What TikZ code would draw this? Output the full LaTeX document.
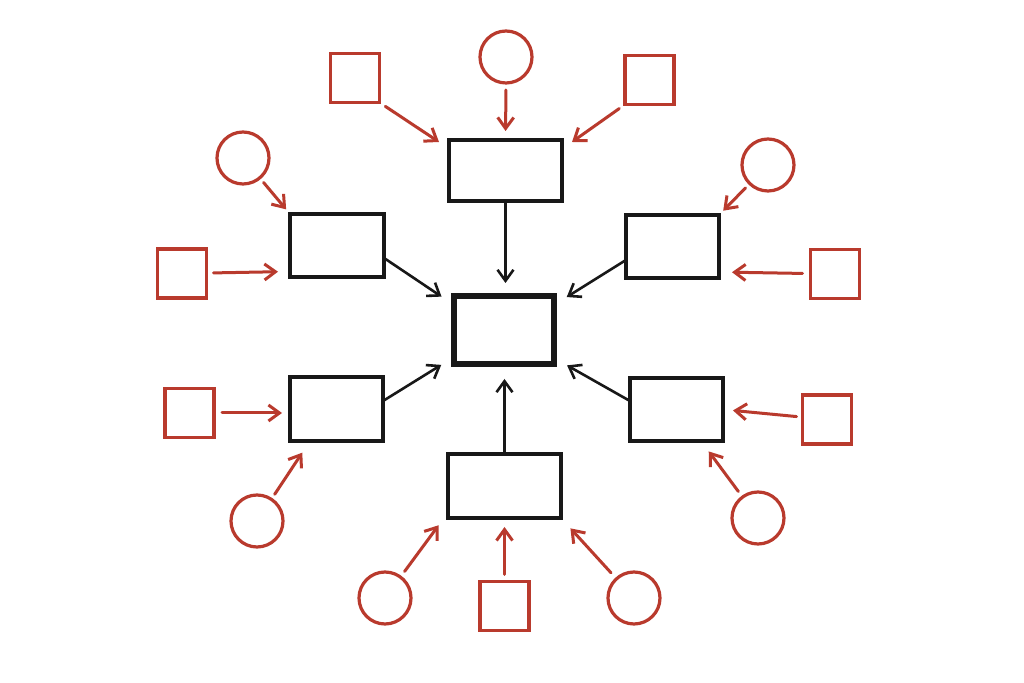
\documentclass[tikz,border=0pt]{standalone}
\usetikzlibrary{arrows.meta,calc}
\definecolor{sk}{RGB}{185,58,45}
\definecolor{ink}{RGB}{24,24,24}
\begin{document}
\begin{tikzpicture}[x=0.5pt,y=-0.5pt,
  box/.style={draw=ink,line width=1.7pt,inner sep=0pt,outer sep=0pt,rectangle},
  hub/.style={draw=ink,line width=2.8pt,inner sep=0pt,outer sep=0pt,rectangle,minimum width=50pt,minimum height=34pt},
  sq/.style={draw=sk,line width=1.6pt,inner sep=0pt,outer sep=0pt,rectangle,minimum size=24.5pt},
  ci/.style={draw=sk,line width=1.6pt,inner sep=0pt,outer sep=0pt,circle,minimum size=26pt},
  rarr/.style={draw=sk,line width=1.5pt,line cap=round,-{Straight Barb[length=5.5pt,width=8pt,line width=1.5pt]}},
  barr/.style={draw=ink,line width=1.3pt,line cap=round,-{Straight Barb[length=5.5pt,width=8pt,line width=1.3pt]}}
]
\useasboundingbox[fill=white] (0,0) rectangle (1024,683);
% black boxes
\node[hub] (ctr) at (504,330) {};
\node[box,minimum width=56.5pt,minimum height=30.5pt] (top) at (505.5,170.5) {};
\node[box,minimum width=47pt,minimum height=31.5pt] (lub) at (337,245.5) {};
\node[box,minimum width=46.5pt,minimum height=31.5pt] (rub) at (672.5,246.5) {};
\node[box,minimum width=46.5pt,minimum height=32pt] (llb) at (336.5,409) {};
\node[box,minimum width=46.5pt,minimum height=31.5pt] (rlb) at (676.5,409.5) {};
\node[box,minimum width=56.5pt,minimum height=32pt] (bb) at (504.5,486) {};
% red squares
\node[sq] (tls) at (355,78) {};
\node[sq] (trs) at (649.5,80) {};
\node[sq] (lus) at (182,273.5) {};
\node[sq] (rus) at (835,274) {};
\node[sq] (lls) at (189.5,413) {};
\node[sq] (rls) at (827,419.5) {};
\node[sq] (bs) at (504.5,606) {};
% red circles
\node[ci] (tc) at (506,57) {};
\node[ci] (luc) at (243,158) {};
\node[ci] (ruc) at (768,165) {};
\node[ci] (llc) at (257,521) {};
\node[ci] (rlc) at (758,518) {};
\node[ci] (blc) at (385,598) {};
\node[ci] (brc) at (634,598) {};
% red arrows
\draw[rarr,shorten <=3.5pt,shorten >=4.5pt] (tc.south) -- (top.north);
\draw[rarr,shorten <=3.5pt] (tls.south east) -- ([xshift=-5pt,yshift=-1pt]top.north west);
\draw[rarr,shorten <=3.5pt] (trs.south west) -- ([xshift=5pt,yshift=-1pt]top.north east);
\draw[rarr,shorten <=3pt,shorten >=3pt] (luc) -- (lub.north west);
\draw[rarr,shorten <=3.5pt,shorten >=6pt] (lus) -- ([yshift=1pt]lus -| lub.west);
\draw[rarr,shorten <=3pt,shorten >=3pt] (ruc) -- (rub.north east);
\draw[rarr,shorten <=4pt,shorten >=6.5pt] (rus) -- ([yshift=1pt]rus -| rub.east);
\draw[rarr,shorten <=4pt,shorten >=4pt] (lls) -- (lls -| llb.west);
\draw[rarr,shorten <=3pt,shorten >=7pt] (llc) -- ([xshift=10pt]llb.south west);
\draw[rarr,shorten <=3pt,shorten >=5pt] (rls) -- (rlb.east);
\draw[rarr,shorten <=3.5pt,shorten >=6.5pt] (rlc) -- ([xshift=-11pt]rlb.south east);
\draw[rarr,shorten <=3.5pt,shorten >=4.5pt] (blc) -- ([xshift=-2pt]bb.south west);
\draw[rarr,shorten <=3.5pt,shorten >=4.5pt] (bs.north) -- (bb.south);
\draw[rarr,shorten <=4pt,shorten >=7pt] (brc) -- (bb.south east);
% black arrows
\draw[barr,shorten >=6.5pt] (top.south) -- (top.south |- ctr.north);
\draw[barr,shorten >=7.5pt] ([yshift=-6.25pt]lub.east) -- ([yshift=-4.5pt]ctr.north west);
\draw[barr,shorten >=7.5pt] ([yshift=-6.75pt]rub.west) -- ([yshift=-4.5pt]ctr.north east);
\draw[barr,shorten >=7.5pt] ([yshift=4pt]llb.east) -- ([yshift=3.5pt]ctr.south west);
\draw[barr,shorten >=7.5pt] ([yshift=4.25pt]rlb.west) -- ([yshift=3pt]ctr.south east);
\draw[barr,shorten >=7.5pt] (bb.north) -- (bb.north |- ctr.south);
\end{tikzpicture}
\end{document}
